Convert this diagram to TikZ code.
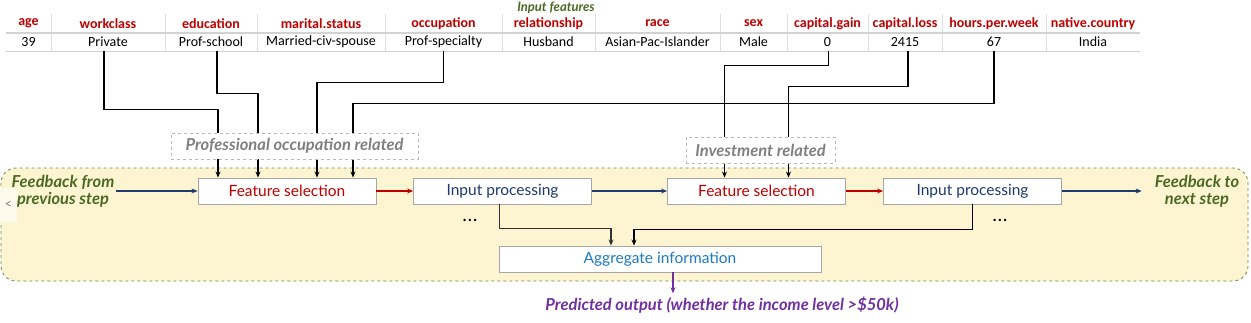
\documentclass[tikz,border=0pt]{standalone}
\usepackage{fontspec}
\setmainfont{Lato}
\newfontfamily\tabfont{Carlito}
\usetikzlibrary{positioning,arrows.meta,calc}

\definecolor{hdrred}{HTML}{C00000}
\definecolor{leafgreen}{HTML}{4A6A24}
\definecolor{bandfill}{HTML}{FDF5D2}
\definecolor{bandline}{HTML}{6E8A4A}
\definecolor{navy}{HTML}{1F3A6E}
\definecolor{aggblue}{HTML}{1F7AC4}
\definecolor{outpurple}{HTML}{7030A0}
\definecolor{boxgray}{HTML}{A6A6A6}

\begin{document}
\begin{tikzpicture}[
  x=1pt, y=-1pt,
  font=\fontsize{15.5}{18}\selectfont, >={Stealth[length=6pt,width=5pt]},
  cell/.style={inner sep=0pt,minimum height=18pt,font=\tabfont\fontsize{14}{15}\selectfont},
  stage/.style={draw=boxgray,fill=white,line width=0.9pt,minimum width=178pt,minimum height=26pt,inner sep=0pt},
  grp/.style={draw=gray!55,dashed,fill=white,text=gray,line width=0.8pt,minimum height=26pt,inner sep=0pt,
    font=\fontsize{16.5}{18}\selectfont\bfseries\itshape},
  feed/.style={text=leafgreen,align=center,inner sep=1pt,font=\fontsize{16.5}{17}\selectfont\bfseries\itshape},
  flow/.style={->,line width=1.1pt},
  redflow/.style={->,line width=1.3pt,hdrred},
  navyflow/.style={->,line width=1.3pt,navy},
]
\useasboundingbox (0,0) rectangle (1251,322);
% yellow band with the repeated steps
\draw[bandline,dashed,line width=0.8pt,fill=bandfill,rounded corners=15pt] (1,168) rectangle (1248,281);
\node[fill=bandfill!40,minimum width=17pt,minimum height=34pt,inner sep=0pt,text=gray] (tab) at (8.5,205) {\fontsize{13}{13}\selectfont\textless};
% table of input features
\node[text=leafgreen,anchor=base,font=\fontsize{13}{15}\selectfont\bfseries\itshape] (inf) at (556,11) {Input features};
\foreach \i/\hd/\vl/\l/\r in {1/age/39/6/51, 2/workclass/Private/51/165, 3/education/Prof-school/165/257,
  4/marital.status/Married-civ-spouse/257/385, 5/occupation/Prof-specialty/385/502, 6/relationship/Husband/502/595,
  7/race/Asian-Pac-Islander/595/720, 8/sex/Male/720/787, 9/capital.gain/0/787/868, 10/capital.loss/2415/868/942,
  11/hours.per.week/67/942/1046, 12/native.country/India/1046/1140}{
  \pgfmathsetmacro\cx{(\l+\r)/2}
  \pgfmathsetmacro\cw{\r-\l}
  \node[cell,minimum width=\cw pt,text=hdrred,font=\tabfont\fontsize{14}{15}\selectfont\bfseries] (h\i) at (\cx,23.5) {\hd};
  \node[cell,minimum width=\cw pt] (v\i) at (\cx,42) {\vl};
  \ifnum\i<12 \draw[gray!25,line width=0.8pt] (\r,14) -- (\r,51); \fi
}
\draw[gray!35,line width=1.2pt] (6,33) -- (1140,33);
\draw[gray!35,line width=0.8pt] (6,51) -- (1140,51);
% steps
\node[stage,text=hdrred] (fs1) at (287,191) {Feature selection};
\node[stage,text=navy] (ip1) at (502.5,191) {Input processing};
\node[stage,text=hdrred] (fs2) at (756.5,191) {Feature selection};
\node[stage,text=navy] (ip2) at (972.5,191) {Input processing};
\node[stage,text=aggblue,minimum width=322pt] (ag) at (660,259) {Aggregate information};
\node[feed] (fbin) at (63,191) {Feedback from\\previous step};
\node[feed] (fbout) at (1197,191) {Feedback to\\next step};
\node (dots1) at (470,220) {\bfseries .\hspace{1.5pt}.\hspace{1.5pt}.};
\node (dots2) at (1000,220) {\bfseries .\hspace{1.5pt}.\hspace{1.5pt}.};
\draw[navyflow] (fbin.east) -- (fs1.west);
\draw[redflow] (fs1) -- (ip1);
\draw[navyflow] (ip1) -- (fs2);
\draw[redflow] (fs2) -- (ip2);
\draw[navyflow] (ip2.east) -- ([xshift=-12pt]fbout.west);
% selected features into the steps
\draw[flow] ([xshift=-4pt]v2.south) -- ++(0,58) -| ([xshift=-69pt]fs1.north);
\draw[flow] ([xshift=6pt]v3.south) -- ++(0,42) -| ([xshift=-29pt]fs1.north);
\draw[flow] (v5.south) -- ++(0,31) -| ([xshift=30pt]fs1.north);
\draw[flow] (v11.south) -- ++(0,52) -| ([xshift=66pt]fs1.north);
\draw[flow] ([xshift=1pt]v9.south) -- ++(0,14) -| ([xshift=-32pt]fs2.north);
\draw[flow] ([xshift=3pt]v10.south) -- ++(0,35) -| ([xshift=32pt]fs2.north);
\node[grp,minimum width=247pt] (prof) at (294.5,146) {Professional occupation related};
\node[grp,minimum width=149pt] (inv) at (760.5,150) {Investment related};
% aggregate and output
\draw[flow,black!80] ([xshift=-3pt]ip1.south) -- ++(0,24) -| ([xshift=-49pt]ag.north);
\draw[flow] (ip2.south) -- ++(0,25) -| ([xshift=-26pt]ag.north);
\node[text=outpurple,font=\fontsize{16.5}{18}\selectfont\bfseries\itshape] (pred) at (722,305) {Predicted output (whether the income level >\$50k)};
\coordinate (agout) at ([xshift=13pt]ag.south);
\draw[->,line width=1.3pt,outpurple] (agout) -- (agout |- pred.north);
\end{tikzpicture}
\end{document}
